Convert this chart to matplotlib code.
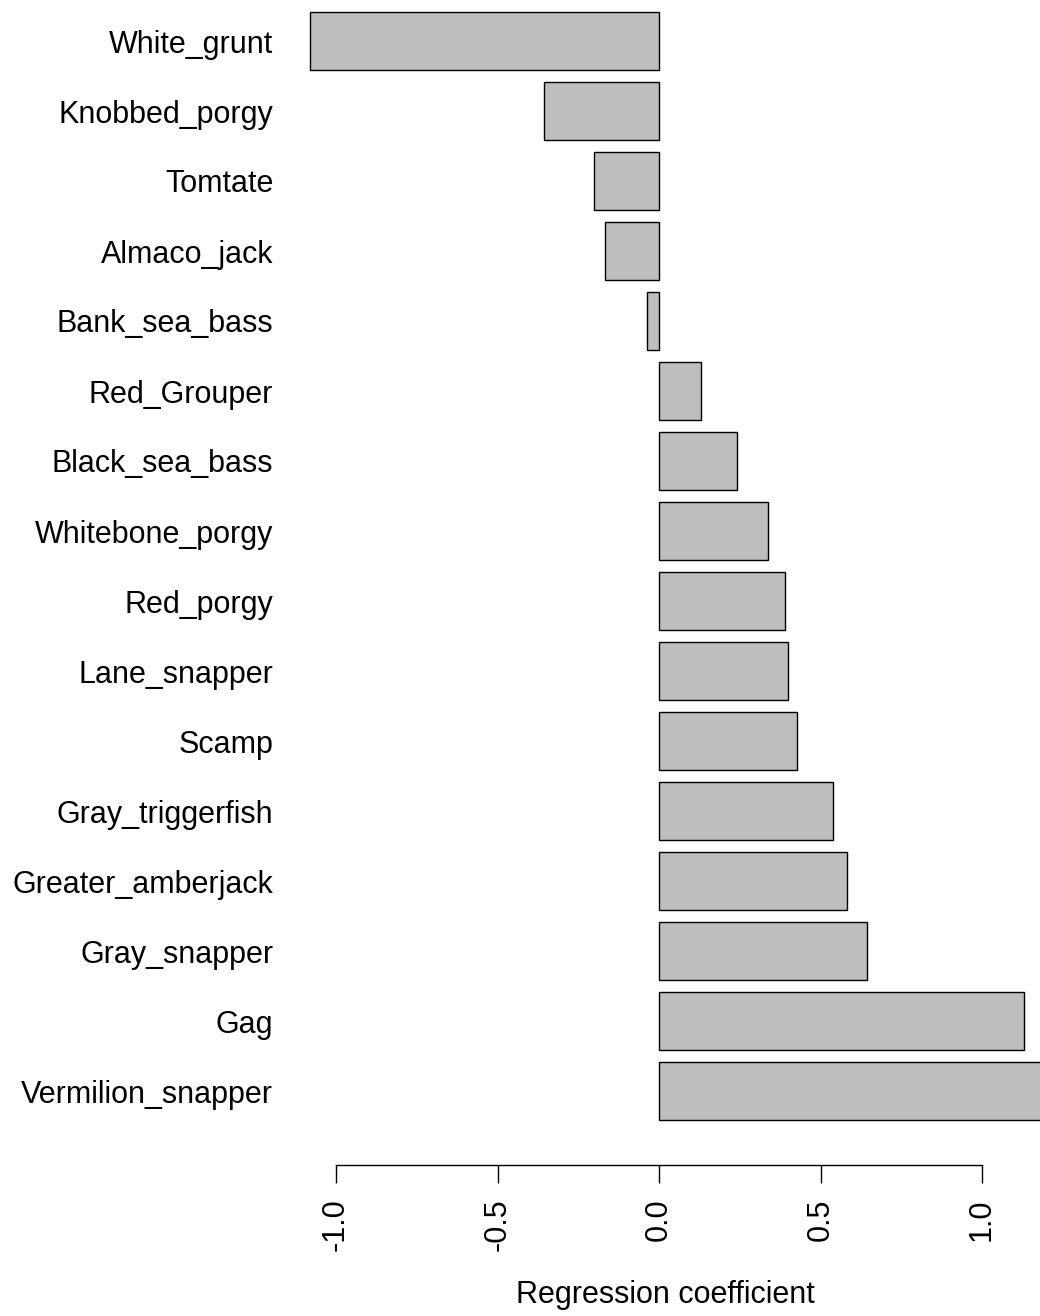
import numpy as np
import matplotlib.pyplot as plt

plt.rcParams['font.family'] = ['Liberation Sans', 'DejaVu Sans']

species = ["White_grunt", "Knobbed_porgy", "Tomtate", "Almaco_jack", "Bank_sea_bass",
           "Red_Grouper", "Black_sea_bass", "Whitebone_porgy", "Red_porgy", "Lane_snapper",
           "Scamp", "Gray_triggerfish", "Greater_amberjack", "Gray_snapper", "Gag",
           "Vermilion_snapper"]
coef = [-1.080, -0.356, -0.201, -0.167, -0.037,
        0.130, 0.241, 0.337, 0.390, 0.399,
        0.427, 0.539, 0.582, 0.644, 1.130,
        1.200]

W, H = 1040, 1316
fig = plt.figure(figsize=(W / 100, H / 100), dpi=100)
# axes from pixel x=290..1040, y=0..1165
ax = fig.add_axes([290 / W, 1 - 1165 / H, 750 / W, 1165 / H])

ypos = np.arange(len(species))
ax.barh(ypos, coef, height=0.833, color='#bebebe', edgecolor='black', linewidth=1.0)

px = 323.0  # pixels per unit
ax.set_xlim((290 - 659) / px, (1040 - 659) / px)
ax.set_ylim((1165 - 41) / 70.0, -41 / 70.0)

for s in ['top', 'right', 'left']:
    ax.spines[s].set_visible(False)
ax.spines['bottom'].set_bounds(-1.0, 1.0)
ax.spines['bottom'].set_linewidth(1.0)

ax.set_yticks(ypos)
ax.set_yticklabels(species, fontsize=22)
ax.tick_params(axis='y', length=0, pad=12)

ticks = [-1.0, -0.5, 0.0, 0.5, 1.0]
ax.set_xticks(ticks)
ax.set_xticklabels(["%.1f" % t for t in ticks], rotation=90, fontsize=22)
ax.tick_params(axis='x', length=13, width=1.0, pad=11)
ax.set_xlabel("Regression coefficient", fontsize=22, labelpad=21)

fig.savefig("out.png", dpi=100)
